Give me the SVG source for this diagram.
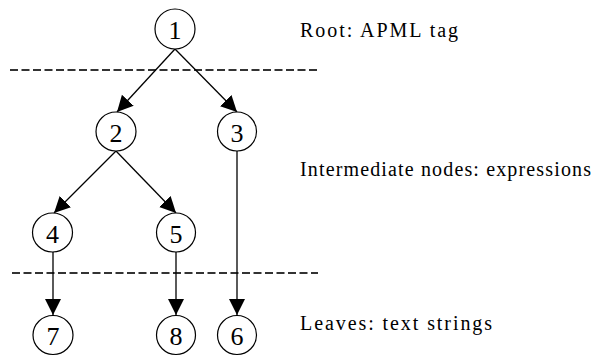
<svg xmlns="http://www.w3.org/2000/svg" width="593" height="356" viewBox="0 0 593 356">
  <style>
    .node ellipse { fill: #fff; stroke: #000; stroke-width: 1.2; }
    .node text { font-family: "Liberation Serif", "Times New Roman", serif; font-size: 26px; text-anchor: middle; fill: #000; }
    .edge { stroke: #000; stroke-width: 1.3; fill: none; marker-end: url(#arrow); }
    .sep { stroke: #333; stroke-width: 2; stroke-dasharray: 8 3.5; fill: none; }
    .label { font-family: "Liberation Serif", "Times New Roman", serif; font-size: 20px; fill: #000; }
  </style>
  <defs>
    <marker id="arrow" markerUnits="userSpaceOnUse" markerWidth="17" markerHeight="17" refX="16" refY="8" orient="auto" viewBox="0 0 17 17">
      <path d="M0,0 L16,8 L0,16 z" fill="#000"/>
    </marker>
  </defs>

  <!-- level separators -->
  <g id="separators">
    <line class="sep" x1="10" y1="70" x2="318" y2="70"/>
    <line class="sep" x1="12" y1="273" x2="318" y2="273"/>
  </g>

  <!-- tree edges -->
  <g id="edges">
    <line class="edge" x1="175" y1="49" x2="117" y2="112"/>
    <line class="edge" x1="175" y1="49" x2="237" y2="112"/>
    <line class="edge" x1="116" y1="151" x2="54" y2="213"/>
    <line class="edge" x1="116" y1="151" x2="176" y2="213"/>
    <line class="edge" x1="53" y1="252" x2="53" y2="315"/>
    <line class="edge" x1="176" y1="252" x2="176" y2="315"/>
    <line class="edge" x1="237" y1="151" x2="237" y2="315"/>
  </g>

  <!-- nodes -->
  <g id="node1" class="node"><ellipse cx="175" cy="29" rx="20" ry="20"/><text x="175" y="39">1</text></g>
  <g id="node2" class="node"><ellipse cx="116" cy="131.5" rx="20" ry="19.5"/><text x="116" y="142">2</text></g>
  <g id="node3" class="node"><ellipse cx="237" cy="131.5" rx="19.5" ry="19.5"/><text x="237" y="142">3</text></g>
  <g id="node4" class="node"><ellipse cx="52.5" cy="232.5" rx="20" ry="19.5"/><text x="52.5" y="243">4</text></g>
  <g id="node5" class="node"><ellipse cx="176" cy="232.5" rx="19.5" ry="19.5"/><text x="176" y="243">5</text></g>
  <g id="node7" class="node"><ellipse cx="53" cy="335" rx="20" ry="19.5"/><text x="53" y="345">7</text></g>
  <g id="node8" class="node"><ellipse cx="176" cy="335" rx="19.5" ry="19.5"/><text x="176" y="345">8</text></g>
  <g id="node6" class="node"><ellipse cx="237" cy="335" rx="19.5" ry="19.5"/><text x="237" y="345">6</text></g>

  <!-- level captions -->
  <g id="captions">
    <text class="label" x="300" y="37" textLength="158" lengthAdjust="spacing">Root: APML tag</text>
    <text class="label" x="300" y="176" textLength="291" lengthAdjust="spacing">Intermediate nodes: expressions</text>
    <text class="label" x="300" y="330" textLength="192" lengthAdjust="spacing">Leaves: text strings</text>
  </g>
</svg>
